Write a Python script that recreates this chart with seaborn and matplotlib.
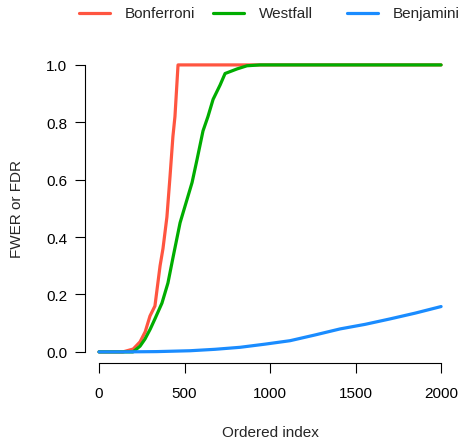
import numpy as np
import pandas as pd
import seaborn as sns
import matplotlib
matplotlib.use("Agg")
import matplotlib.pyplot as plt


# Values

bonf_x = [0, 140, 200, 240, 270, 298, 327, 357, 374, 397, 415, 432, 444, 456, 462, 2000]
bonf_y = [0.0, 0.0, 0.01, 0.035, 0.07, 0.125, 0.16, 0.30, 0.36, 0.47, 0.61, 0.75, 0.82, 0.94, 1.0, 1.0]

west_x = [0, 199, 240, 269, 300, 327, 368, 403, 433, 474, 514, 544, 573, 608, 637, 667, 708, 737,
          807, 865, 941, 2000]
west_y = [0.0, 0.0, 0.02, 0.045, 0.08, 0.115, 0.17, 0.24, 0.33, 0.45, 0.53, 0.59, 0.67, 0.77, 0.82,
          0.88, 0.93, 0.97, 0.986, 0.997, 1.0, 1.0]

benj_x = [0, 142, 337, 532, 678, 825, 971, 1117, 1263, 1409, 1556, 1702, 1848, 2000]
benj_y = [0.0, 0.0, 0.001, 0.004, 0.009, 0.016, 0.027, 0.039, 0.059, 0.08, 0.096, 0.115, 0.135, 0.158]

methods = ["Bonferroni", "Westfall", "Benjamini"]
colors = ["#FF5540", "#00AD00", "#1A8CFF"]

frames = []
for name, xs, ys in zip(methods, [bonf_x, west_x, benj_x], [bonf_y, west_y, benj_y]):
    frames.append(pd.DataFrame({"index": xs, "value": ys, "method": name}))
df = pd.concat(frames, ignore_index=True)


# Plot

sns.set_style("white")
plt.rcParams["font.family"] = ["Liberation Sans", "DejaVu Sans"]

fig = plt.figure(figsize=(4.65, 4.39), dpi=100)
ax = fig.add_axes([0.1835, 0.170, 0.7945, 0.706])

sns.lineplot(data=df, x="index", y="value", hue="method", hue_order=methods,
             palette=colors, linewidth=2.3, sort=False, estimator=None, ax=ax, legend=False)

ax.set_xlim(-80, 2080)
ax.set_ylim(-0.04, 1.04)
ax.set_xticks([0, 500, 1000, 1500, 2000])
ax.set_yticks([0.0, 0.2, 0.4, 0.6, 0.8, 1.0])
ax.set_yticklabels(["0.0", "0.2", "0.4", "0.6", "0.8", "1.0"])

for s in ["top", "right"]:
    ax.spines[s].set_visible(False)
ax.spines["bottom"].set_bounds(0, 2000)
ax.spines["left"].set_bounds(0, 1)
for s in ["bottom", "left"]:
    ax.spines[s].set_color("black")
    ax.spines[s].set_linewidth(0.8)
ax.tick_params(axis="both", direction="out", length=7, width=0.8, colors="black",
               labelsize=11, bottom=True, left=True)
ax.tick_params(axis="x", pad=9)
ax.tick_params(axis="y", pad=6)

ax.set_xlabel("Ordered index", fontsize=11)
ax.set_ylabel("FWER or FDR", fontsize=11)
ax.xaxis.set_label_coords(0.5, -0.221)
ax.xaxis.label.set_verticalalignment("center")
ax.yaxis.set_label_coords(-0.185, 0.5)
ax.yaxis.label.set_verticalalignment("center")

# legend across the top, placed by hand like the R original
legend_x = [79, 213, 347]
for name, col, lx in zip(methods, colors, legend_x):
    fig.add_artist(plt.Line2D([lx / 465, (lx + 31) / 465], [1 - 14 / 439] * 2,
                              color=col, linewidth=2.3, transform=fig.transFigure))
    fig.text((lx + 46) / 465, 1 - 14 / 439, name, fontsize=11, va="center", ha="left")

fig.savefig("out.png", dpi=100)
